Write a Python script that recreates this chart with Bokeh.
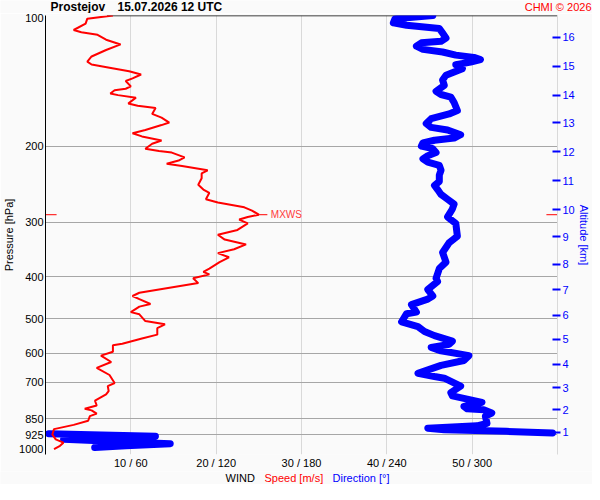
import numpy as np
from bokeh.plotting import figure
from bokeh.layouts import column
from bokeh.models import Range1d, LogAxis, FixedTicker, Label
from bokeh.core.properties import value
from bokeh.embed import file_html
from bokeh.resources import INLINE

# ---------------- data ----------------
station = "Prostejov"
timestamp = "15.07.2026 12 UTC"
credit = "CHMI \u00a9 2026"

speed_pressure = [100, 101.7, 104.4, 108.0, 109.3, 110.8, 113.7, 116.6, 120.1, 124.3, 127.7, 129.7,
                  131.9, 134.5, 136.8, 139.6, 141.6, 145.7, 147.5, 148.7, 151.3, 152.6, 154.7, 157.3,
                  159.5, 161.4, 163.4, 168.6, 172.0, 176.5, 178.9, 183.6, 186.8, 190.0, 194.2, 197.6,
                  202.8, 205.2, 207.0, 212.4, 216.0, 219.7, 222.4, 227.4, 231.2, 237.3, 245.6, 251.9,
                  256.3, 265.2, 269.7, 276.8, 281.6, 287.9, 291.3, 295.4, 301.5, 312.1, 320.2, 328.5,
                  337.1, 345.8, 353.0, 360.9, 370.3, 383.2, 389.8, 395.2, 403.4, 413.9, 428.2, 435.7,
                  443.2, 450.7, 462.4, 468.9, 482.8, 488.5, 506.4, 515.1, 525.8, 544.1, 555.4, 570.8,
                  575.8, 595.9, 608.3, 629.2, 648.9, 674.1, 703.3, 715.4, 734.0, 746.9, 772.7, 792.7,
                  806.7, 813.4, 827.7, 838.8, 859.3, 878.5, 898.5, 924.6, 948.7, 965.5, 981.9, 998.7]
speed_ms = [7.9, 4.9, 4.7, 3.3, 4.2, 6.1, 7.1, 8.8, 7.1, 5.4, 4.9, 5.4,
            7.5, 9.8, 11.2, 10.2, 9.4, 10.0, 9.4, 8.1, 7.6, 8.5, 10.6, 10.1,
            9.7, 10.8, 12.9, 12.5, 13.6, 14.5, 13.6, 11.7, 10.2, 11.3, 13.6, 12.5,
            11.7, 13.3, 14.8, 16.3, 15.6, 14.2, 16.0, 19.0, 18.3, 18.3, 17.9, 18.5,
            19.2, 18.8, 20.2, 23.3, 24.2, 25.0, 23.7, 22.7, 23.7, 22.5, 20.2, 21.0,
            23.5, 22.1, 20.2, 21.5, 20.4, 19.2, 18.5, 19.2, 17.3, 17.9, 13.3, 11.0,
            10.2, 11.0, 12.3, 11.0, 10.0, 11.0, 11.7, 14.0, 13.1, 13.1, 11.3, 9.0,
            7.9, 7.9, 6.5, 7.7, 6.0, 7.5, 8.1, 7.3, 7.4, 7.1, 5.8, 6.0,
            4.6, 5.4, 6.0, 5.2, 5.0, 3.3, 1.0, 0.8, 1.2, 2.1, 1.7, 1.0]

dir_pressure = [100, 101.7, 104.0, 105.3, 107.1, 109.8, 112.7, 114.7, 115.6, 117.7, 119.7, 121.4,
                123.4, 124.9, 126.4, 128.1, 129.9, 132.6, 137.3, 140.8, 144.9, 149.5, 152.1, 154.2,
                158.7, 165.6, 168.6, 172.9, 177.4, 181.1, 183.6, 188.3, 191.6, 193.9, 196.6, 200.0,
                202.8, 207.0, 210.5, 214.1, 217.9, 221.6, 227.4, 233.3, 241.4, 246.4, 251.9, 258.5,
                265.2, 272.1, 279.2, 291.3, 301.5, 322.8, 334.1, 351.7, 370.3, 383.2, 403.4, 410.3,
                428.2, 443.2, 450.7, 464.1, 482.8, 486.8, 508.2, 521.5, 535.0, 547.0, 563.2, 572.9,
                582.6, 592.9, 608.3, 624.1, 640.4, 668.3, 679.7, 685.6, 715.4, 740.5, 753.1, 766.4,
                779.5, 796.8, 806.7, 810.8, 824.8, 838.8, 871.3, 883.0, 893.9, 901.4, 909.2, 917.1,
                920.7, 932.9, 948.7, 970.4, 981.9, 990.6]
direction_deg = [272.3, 245.8, 244.6, 253.9, 276.9, 279.2, 281.6, 278.1, 264.3, 260.8, 265.4, 279.2,
                 288.5, 301.2, 305.8, 298.9, 288.5, 293.1, 281.6, 279.2, 280.4, 274.6, 278.1, 285.0,
                 287.3, 289.6, 283.8, 271.2, 267.7, 271.2, 282.7, 291.9, 287.3, 273.5, 265.4, 264.3,
                 272.3, 274.6, 268.8, 265.4, 268.8, 276.9, 278.1, 276.9, 276.9, 273.5, 275.7, 278.1,
                 282.7, 287.3, 286.1, 282.7, 288.5, 289.6, 283.8, 279.2, 281.6, 276.9, 274.6, 275.7,
                 268.8, 272.3, 268.8, 257.3, 260.8, 253.9, 250.4, 261.9, 266.5, 273.5, 286.1, 283.8,
                 271.2, 278.1, 297.7, 294.2, 278.1, 261.9, 273.5, 280.4, 291.9, 285.0, 286.1, 296.5,
                 306.9, 294.2, 296.5, 308.1, 313.8, 309.3, 310.4, 303.4, 268.8, 280.4, 324.2, 356.5,
                 2.3, 77.3, 12.7, 87.7, 56.6, 34.6]

pressure_ticks = [100, 200, 300, 400, 500, 600, 700, 850, 925, 1000]
pressure_grid = [200, 300, 400, 500, 600, 700, 850, 925]
speed_ticks = [10, 20, 30, 40, 50]
direction_ticks = [60, 120, 180, 240, 300]
speed_grid = [10, 20, 30, 40, 50, 60]
altitude_km = list(range(1, 17))
altitude_pressure = [914, 811, 722, 636, 558, 491, 429, 374, 324, 280.6,
                     240.2, 206.2, 176.8, 152.6, 130.8, 112.1]

legend_words = ["WIND", "Speed [m/s]", "Direction [\u00b0]"]

# ---------------- styling ----------------
FONT = "Liberation Sans"
BG = "#fafafa"
RED = "#ff0000"
BLUE = "#0000ff"
W = 592
HEADER_H = 13
FOOTER_H = 13
MAIN_H = 484 - HEADER_H - FOOTER_H


def strip_fig(h):
    f = figure(width=W, height=h, x_range=Range1d(0, W), y_range=Range1d(0, h),
               output_backend="svg", toolbar_location=None,
               x_axis_location=None, y_axis_location=None,
               min_border=0, frame_align=False)
    f.grid.visible = False
    f.outline_line_color = None
    f.background_fill_color = BG
    f.border_fill_color = BG
    return f


# header strip
header = strip_fig(HEADER_H)
header.text(x=[50, 117], y=[HEADER_H / 2, HEADER_H / 2], text=[station, timestamp],
            text_font=value(FONT), text_font_size="12px", text_font_style="bold",
            text_color="black", text_baseline="middle")
header.text(x=[591], y=[HEADER_H / 2 + 0.5], text=[credit], text_font=value(FONT),
            text_font_size="11px", text_color=RED, text_align="right", text_baseline="middle")

# main plot
p = figure(width=W, height=MAIN_H, x_range=Range1d(0, 60), y_range=Range1d(1028, 100),
           y_axis_type="log", output_backend="svg", toolbar_location=None, frame_align=False,
           min_border_left=0, min_border_right=0, min_border_top=2, min_border_bottom=14)
p.extra_x_ranges = {"dir": Range1d(0, 360)}
p.background_fill_color = BG
p.border_fill_color = BG
p.outline_line_color = None

p.ygrid.ticker = FixedTicker(ticks=pressure_grid)
p.ygrid.grid_line_color = "#a6a6a6"
p.xgrid.ticker = FixedTicker(ticks=speed_grid)
p.xgrid.grid_line_color = "#d9d9d9"

ya = p.left[0]
ya.ticker = FixedTicker(ticks=pressure_ticks)
ya.major_label_overrides = {v: str(v) for v in pressure_ticks}
ya.axis_label = "Pressure [hPa]"
ya.axis_line_color = "black"
ya.major_tick_line_color = None
ya.minor_tick_line_color = None
ya.major_tick_out = 0
ya.major_tick_in = 0
ya.major_label_standoff = 2
ya.axis_label_standoff = 1
ya.major_label_text_font = FONT
ya.major_label_text_font_size = "11px"
ya.major_label_text_color = "black"
ya.axis_label_text_font = FONT
ya.axis_label_text_font_size = "11px"
ya.axis_label_text_font_style = "normal"
ya.axis_label_text_color = "black"

xa = p.below[0]
xa.ticker = FixedTicker(ticks=speed_ticks)
xa.major_label_overrides = {s: f"{s} / {d}" for s, d in zip(speed_ticks, direction_ticks)}
xa.axis_line_color = None
xa.major_tick_line_color = None
xa.minor_tick_line_color = None
xa.major_tick_out = 0
xa.major_tick_in = 0
xa.major_label_standoff = 2
xa.major_label_text_font = FONT
xa.major_label_text_font_size = "11px"
xa.major_label_text_color = "black"

alt_axis = LogAxis(ticker=FixedTicker(ticks=altitude_pressure))
alt_axis.major_label_overrides = {pv: str(k) for pv, k in zip(altitude_pressure, altitude_km)}
alt_axis.axis_label = "Altitude [km]"
alt_axis.axis_line_color = "#d9d9d9"
alt_axis.major_tick_line_color = BLUE
alt_axis.major_tick_line_width = 2
alt_axis.major_tick_in = 5
alt_axis.major_tick_out = 3
alt_axis.minor_tick_line_color = None
alt_axis.major_label_standoff = 2
alt_axis.axis_label_standoff = 0
alt_axis.major_label_text_font = FONT
alt_axis.major_label_text_font_size = "11px"
alt_axis.major_label_text_color = BLUE
alt_axis.axis_label_text_font = FONT
alt_axis.axis_label_text_font_size = "11px"
alt_axis.axis_label_text_font_style = "normal"
alt_axis.axis_label_text_color = BLUE
p.add_layout(alt_axis, "right")

# top rule
p.segment(x0=7.2, y0=100, x1=60, y1=100, line_color="black", line_width=1.5)

# wind direction (break line where it wraps through north)
d = np.asarray(direction_deg, float)
pp = np.asarray(dir_pressure, float)
dx, dy = [d[0]], [pp[0]]
for i in range(1, len(d)):
    if abs(d[i] - d[i - 1]) > 180:
        dx.append(np.nan)
        dy.append(np.nan)
    dx.append(d[i])
    dy.append(pp[i])
p.line(dx, dy, x_range_name="dir", line_color=BLUE, line_width=7,
       line_join="round", line_cap="round")

# wind speed
p.line(speed_ms, speed_pressure, line_color=RED, line_width=2)

# maximum wind marker
imax = int(np.argmax(speed_ms))
s_max, p_max = speed_ms[imax], speed_pressure[imax]
p.segment(x0=s_max, y0=p_max, x1=s_max + 1.0, y1=p_max, line_color=RED, line_width=1)
p.segment(x0=0, y0=p_max, x1=1.3, y1=p_max, line_color=RED, line_width=1)
p.segment(x0=58.7, y0=p_max, x1=60, y1=p_max, line_color=RED, line_width=1)
p.add_layout(Label(x=s_max, y=p_max, x_offset=12, text="MXWS", text_baseline="middle",
                   text_font=FONT, text_font_size="10px", text_color="#ff3b3b"))

# footer strip
footer = strip_fig(FOOTER_H)
footer.text(x=[225, 264, 332], y=[FOOTER_H / 2] * 3, text=legend_words, text_font=value(FONT),
            text_font_size="11px", text_color=["black", RED, BLUE], text_baseline="middle")

layout = column(header, p, footer, spacing=0)
open("out.html", "w").write(file_html(layout, INLINE))
